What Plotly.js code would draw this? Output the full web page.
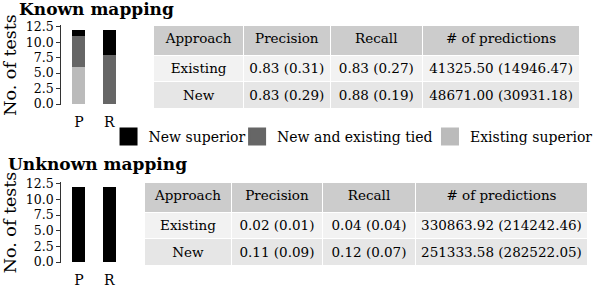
<!DOCTYPE html>
<html>
<head>
<meta charset="utf-8">
<script src="https://cdn.plot.ly/plotly-3.0.1.min.js"></script>
<style>
  html, body { margin: 0; padding: 0; background: #ffffff; }
  #chart { width: 598px; height: 288px; }
</style>
</head>
<body>
<div id="chart"></div>
<script>
// ---------- data ----------
const categories = ['P', 'R'];

const knownNewSuperior      = [1, 4];
const knownTied             = [5, 8];
const knownExistingSuperior = [6, 0];

const unknownNewSuperior      = [12, 12];
const unknownTied             = [0, 0];
const unknownExistingSuperior = [0, 0];

const seriesNames = ['New superior', 'New and existing tied', 'Existing superior'];

const tableHeader = ['Approach', 'Precision', 'Recall', '# of predictions'];
const approaches = ['Existing', 'New'];

const knownPrecision   = ['0.83 (0.31)', '0.83 (0.29)'];
const knownRecall      = ['0.83 (0.27)', '0.88 (0.19)'];
const knownPredictions = ['41325.50 (14946.47)', '48671.00 (30931.18)'];

const unknownPrecision   = ['0.02 (0.01)', '0.11 (0.09)'];
const unknownRecall      = ['0.04 (0.04)', '0.12 (0.07)'];
const unknownPredictions = ['330863.92 (214242.46)', '251333.58 (282522.05)'];

// ---------- styles ----------
const FONT = 'DejaVu Serif';
const TITLE_FONT = 'DejaVu Serif';
const colNew = '#000000';
const colTied = '#666666';
const colExist = '#bbbbbb';
const W = 598, H = 288;
const px = v => v / W;
const py = v => 1 - v / H;
const noWrap = arr => arr.map(s => String(s).replace(/ /g, '\u00a0'));

function bar(y, color, name, xa, ya) {
  return {
    type: 'bar', x: categories, y: y, name: name,
    marker: { color: color, line: { width: 0 } },
    width: 0.43, showlegend: false, hoverinfo: 'skip',
    xaxis: xa, yaxis: ya
  };
}

function legendSwatch(name, color, legendId) {
  return {
    type: 'scatter', mode: 'markers', x: [null], y: [null], name: name,
    marker: { symbol: 'square', size: 16, color: color, line: { color: color, width: 2 } },
    showlegend: true, legend: legendId, xaxis: 'x', yaxis: 'y', hoverinfo: 'skip'
  };
}

function table(prec, rec, preds, domX, domY, widths) {
  return {
    type: 'table',
    domain: { x: domX, y: domY },
    columnwidth: widths,
    header: {
      values: noWrap(tableHeader),
      align: 'center',
      height: 30,
      fill: { color: '#cccccc' },
      line: { color: '#ffffff', width: 1 },
      font: { family: FONT, size: 13.5, color: '#000000' }
    },
    cells: {
      values: [noWrap(approaches), noWrap(prec), noWrap(rec), noWrap(preds)],
      align: 'center',
      height: 26.6,
      fill: { color: [['#f2f2f2', '#e6e6e6']] },
      line: { color: '#ffffff', width: 1 },
      font: { family: FONT, size: 13.5, color: '#000000' }
    }
  };
}

const data = [
  bar(knownExistingSuperior, colExist, seriesNames[2], 'x', 'y'),
  bar(knownTied, colTied, seriesNames[1], 'x', 'y'),
  bar(knownNewSuperior, colNew, seriesNames[0], 'x', 'y'),
  bar(unknownExistingSuperior, colExist, seriesNames[2], 'x2', 'y2'),
  bar(unknownTied, colTied, seriesNames[1], 'x2', 'y2'),
  bar(unknownNewSuperior, colNew, seriesNames[0], 'x2', 'y2'),
  legendSwatch(seriesNames[0], colNew, 'legend'),
  legendSwatch(seriesNames[1], colTied, 'legend2'),
  legendSwatch(seriesNames[2], colExist, 'legend3'),
  table(knownPrecision, knownRecall, knownPredictions,
        [px(156), px(588.3)], [py(112), py(25)], [90.7, 88.3, 93.3, 160]),
  table(unknownPrecision, unknownRecall, unknownPredictions,
        [px(146.7), px(596)], [py(270), py(182)], [87.6, 93, 93.7, 175])
];

const xCommon = {
  range: [-0.586, 1.5], domain: [px(62), px(126)],
  showline: false, showgrid: false, zeroline: false, ticks: '',
  ticklabelstandoff: 7,
  tickfont: { family: FONT, size: 14, color: '#000' },
  fixedrange: true
};
const yCommon = {
  range: [-0.16, 12.77],
  tickvals: [0, 2.5, 5, 7.5, 10, 12.5],
  ticktext: ['0.0', '2.5', '5.0', '7.5', '10.0', '12.5'],
  showline: true, linecolor: '#333333', linewidth: 1,
  ticks: 'outside', ticklen: 4, tickcolor: '#333333', tickwidth: 1,
  showgrid: false, zeroline: false,
  tickfont: { family: FONT, size: 12.5, color: '#000' },
  title: { text: 'No. of tests', font: { family: FONT, size: 17.5, color: '#000' }, standoff: 7 },
  fixedrange: true
};

function legendAt(xPix) {
  return {
    orientation: 'h', x: px(xPix), xanchor: 'left', y: py(137), yanchor: 'middle',
    bgcolor: 'rgba(0,0,0,0)', borderwidth: 0,
    font: { family: FONT, size: 14, color: '#000' }
  };
}

const layout = {
  width: W, height: H,
  margin: { l: 0, r: 0, t: 0, b: 0 },
  paper_bgcolor: '#ffffff', plot_bgcolor: '#ffffff',
  barmode: 'stack',
  showlegend: true,
  font: { family: FONT, color: '#000' },
  xaxis: Object.assign({}, xCommon, { anchor: 'y' }),
  yaxis: Object.assign({}, yCommon, { anchor: 'x', domain: [py(105), py(25)] }),
  xaxis2: Object.assign({}, xCommon, { anchor: 'y2' }),
  yaxis2: Object.assign({}, yCommon, { anchor: 'x2', domain: [py(263), py(182)] }),
  legend: legendAt(110),
  legend2: legendAt(240.3),
  legend3: legendAt(435.8),
  annotations: [
    { text: '<b>Known mapping</b>', xref: 'paper', yref: 'paper', x: px(17), y: py(9),
      xanchor: 'left', yanchor: 'middle', showarrow: false,
      font: { family: TITLE_FONT, size: 17, color: '#000' } },
    { text: '<b>Unknown mapping</b>', xref: 'paper', yref: 'paper', x: px(6), y: py(164),
      xanchor: 'left', yanchor: 'middle', showarrow: false,
      font: { family: TITLE_FONT, size: 17, color: '#000' } }
  ]
};

Plotly.newPlot('chart', data, layout, { displayModeBar: false, staticPlot: true });
</script>
</body>
</html>
